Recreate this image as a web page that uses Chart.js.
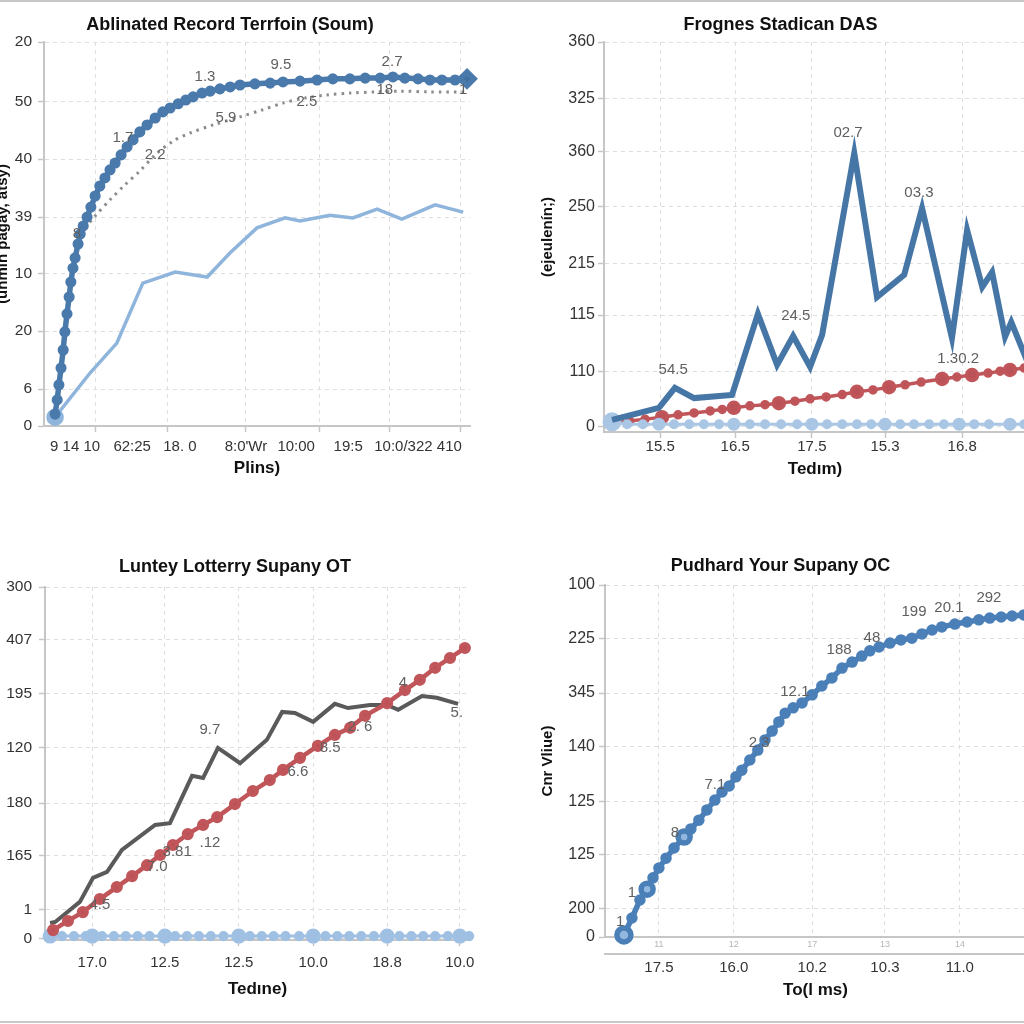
<!DOCTYPE html>
<html>
<head>
<meta charset="utf-8">
<script src="https://cdn.jsdelivr.net/npm/chart.js@4.4.1/dist/chart.umd.min.js"></script>
<style>
  html, body { margin: 0; padding: 0; background: #fff; width: 1024px; height: 1024px; overflow: hidden; }
  canvas { position: absolute; }
  .rule { position: absolute; left: 0; width: 1024px; height: 2px; background: #c8c8c8; }
</style>
</head>
<body>
<div class="rule" style="top:0"></div>
<div class="rule" style="top:1021px"></div>
<canvas id="tl" width="522" height="512" style="left:-10px;top:0"></canvas>
<canvas id="tr" width="550" height="512" style="left:535px;top:0"></canvas>
<canvas id="bl" width="496" height="512" style="left:0;top:512px"></canvas>
<canvas id="br" width="564" height="512" style="left:535px;top:512px"></canvas>
<script>
// ---------- data (axis units 0..100) ----------

// top left
const tlYTicks  = [0, 9.6, 24.7, 39.6, 54.4, 69.5, 84.4, 100];
const tlYLabels = ['0', '6', '20', '10', '39', '40', '50', '20'];
const tlXGrid   = [12.2, 28.9, 47.4, 64.6, 81.2, 97.7];
const tlXTicks  = [7.3, 20.7, 31.9, 47.4, 59.2, 71.4, 87.8];
const tlXLabels = ['9 14 10', '62:25', '18. 0', "8:0'Wr", '10:00', '19:5', '10:0/322 410'];
const tlBlueX = [2.6,3.1,3.5,4.0,4.5,4.9,5.4,5.9,6.3,6.8,7.3,8.0,8.5,9.2,10.1,11.0,12.0,13.1,14.3,15.5,16.7,18.1,19.5,20.9,22.5,24.2,26.1,27.9,29.6,31.5,33.3,35.0,37.1,39.0,41.3,43.7,46.0,49.5,53.1,56.1,60.1,64.1,67.8,71.8,75.4,78.9,81.9,84.7,87.8,90.6,93.4,96.5,99.3];
const tlBlueY = [3.1,6.8,10.7,15.1,19.8,24.5,29.2,33.6,37.5,41.1,43.8,47.4,50.0,52.1,54.4,57.0,59.9,62.5,64.6,66.7,68.5,70.6,72.7,74.5,76.6,78.4,80.2,81.8,82.8,83.9,84.9,85.7,86.7,87.2,87.8,88.3,88.8,89.1,89.3,89.6,89.8,90.1,90.4,90.4,90.6,90.6,90.9,90.6,90.4,90.1,90.1,90.1,90.4];
const tlGreyX = [8.5,12.0,15.5,19.0,22.5,26.1,30.3,34.3,39.7,46.0,51.2,56.1,61.3,66.4,71.8,78.2,83.6,90.6,99.3];
const tlGreyY = [50.0,54.7,58.9,62.8,66.4,70.6,74.2,76.3,78.4,80.5,82.3,84.1,85.4,86.2,86.7,87.0,87.2,87.0,87.0];
const tlPaleX = [2.6,10.8,17.1,23.2,30.8,38.3,43.7,50.0,56.6,60.1,67.1,72.5,78.2,84.0,91.8,98.4];
const tlPaleY = [2.3,13.8,21.6,37.2,40.1,38.8,45.1,51.6,54.2,53.4,54.9,54.2,56.5,53.9,57.6,55.7];
const tlTagText = ['8', '1.7', '1.3', '9.5', '2.7', '2.2', '5.9', '2.5', '18', '1'];
const tlTagX    = [7.7, 18.5, 37.8, 55.6, 81.7, 26.1, 42.7, 61.7, 80.0, 98.4];
const tlTagY    = [50.0, 75.0, 90.9, 94.0, 94.8, 70.6, 80.2, 84.4, 87.5, 87.5];

// top right
const trYTicks  = [1.3, 15.4, 30.0, 43.3, 57.9, 71.8, 85.6, 100];
const trYLabels = ['0', '110', '115', '215', '250', '360', '325', '360'];
const trXGrid   = [12.6, 29.4, 46.6, 63.0, 80.3];
const trXLabels = ['15.5', '16.5', '17.5', '15.3', '16.8'];
const trDarkX = [1.8,12.3,15.9,20.2,28.7,34.5,38.8,42.4,46.2,48.9,56.1,61.2,67.3,71.3,78.0,81.4,84.8,87.0,89.9,91.3,95.5];
const trDarkY = [3.1,6.2,11.3,8.7,9.5,30.3,17.2,24.6,16.7,24.9,71.5,34.6,40.3,57.4,24.1,51.8,37.2,41.0,24.4,28.2,16.4];
const trRedX = [2.5,5.8,9.2,13.0,16.6,20.2,23.8,26.5,29.1,32.7,36.1,39.2,42.8,46.2,49.8,53.4,56.7,60.3,63.9,67.5,71.1,75.8,79.1,82.5,86.1,88.8,91.0,94.2];
const trRedY = [2.3,2.8,3.3,3.8,4.4,4.9,5.4,5.8,6.2,6.7,7.0,7.4,7.9,8.5,9.0,9.6,10.3,10.8,11.5,12.1,12.8,13.6,14.1,14.6,15.1,15.6,15.9,16.4];
const trPaleX = [1.8,5.2,8.7,12.3,15.7,19.1,22.4,25.8,29.1,32.7,36.1,39.7,43.3,46.6,50.0,53.4,56.7,59.9,63.0,66.4,69.5,72.9,76.2,79.6,83.0,86.3,91.0,94.2];
const trPaleY = [2.6,2.0,2.0,2.0,2.0,2.0,2.0,2.0,2.0,2.0,2.0,2.0,2.0,2.0,2.0,2.0,2.0,2.0,2.0,2.0,2.0,2.0,2.0,2.0,2.0,2.0,2.0,2.0];
const trTagText = ['54.5', '24.5', '02.7', '03.3', '1.30.2'];
const trTagX    = [15.5, 43.0, 54.7, 70.6, 79.4];
const trTagY    = [15.9, 29.7, 76.7, 61.3, 18.7];

// bottom left
const blYTicks  = [0.3, 8.5, 23.8, 38.8, 54.4, 69.7, 85.0, 100];
const blYLabels = ['0', '1', '165', '180', '120', '195', '407', '300'];
const blXGrid   = [11.1, 28.2, 45.6, 63.1, 80.5, 97.6];
const blXLabels = ['17.0', '12.5', '12.5', '10.0', '18.8', '10.0'];
const blGreyX = [1.2,2.4,8.2,11.3,14.6,18.1,25.9,29.4,34.6,37.2,40.7,45.9,52.2,55.8,58.8,63.1,68.2,71.3,76.5,80.5,83.1,88.7,92.2,97.2];
const blGreyY = [4.8,5.1,10.8,17.6,19.3,25.5,32.6,33.1,46.5,45.9,54.4,50.1,56.7,64.6,64.3,61.8,66.9,65.7,66.6,66.6,65.2,69.1,68.6,66.9];
const blRedX = [1.9,5.4,8.9,12.9,16.9,20.5,24.0,27.1,30.1,33.6,37.2,40.5,44.7,48.9,52.9,56.0,60.0,64.2,68.2,71.8,75.3,80.5,84.7,88.2,91.8,95.3,98.8];
const blRedY = [2.8,5.4,7.9,11.6,15.0,18.1,21.2,24.1,26.9,30.0,32.6,34.8,38.5,42.2,45.3,48.2,51.6,55.0,58.1,60.1,63.5,67.1,70.8,73.7,77.1,79.9,82.7];
const blPaleX = [1.2,4.0,6.8,9.6,11.1,13.4,16.2,19.0,21.8,24.6,28.2,30.6,33.4,36.2,39.0,42.0,45.6,48.2,51.0,53.8,56.6,59.8,63.1,66.0,68.8,71.6,74.4,77.4,80.5,83.4,86.2,89.0,91.8,94.8,97.6,99.8];
const blPaleY = [1.1,1.1,1.1,1.1,1.1,1.1,1.1,1.1,1.1,1.1,1.1,1.1,1.1,1.1,1.1,1.1,1.1,1.1,1.1,1.1,1.1,1.1,1.1,1.1,1.1,1.1,1.1,1.1,1.1,1.1,1.1,1.1,1.1,1.1,1.1,1.1];
const blTagText = ['9.7', '5.', '4', '2. 6', '8.5', '6.6', '.12', '3.81', '7.0', '4.5'];
const blTagX    = [38.8, 96.9, 84.2, 74.1, 67.1, 59.5, 38.8, 31.1, 26.4, 12.9];
const blTagY    = [59.5, 64.3, 72.8, 60.3, 54.4, 47.6, 27.5, 24.9, 20.7, 9.9];

// bottom right
const brYTicks  = [0, 8.2, 23.3, 38.4, 54.0, 69.3, 84.7, 100];
const brYLabels = ['0', '200', '125', '125', '140', '345', '225', '100'];
const brXGrid   = [12.8, 30.6, 49.2, 66.5, 84.3];
const brXInner  = ['11', '12', '17', '13', '14'];
const brXLabels = ['17.5', '16.0', '10.2', '10.3', '11.0'];
const brX = [4.5,6.4,8.3,10.0,11.4,12.8,14.5,16.4,18.8,20.4,22.3,24.2,26.1,27.8,29.5,31.1,32.5,34.4,36.3,38.0,39.7,41.3,42.8,44.7,46.8,49.2,51.5,53.9,56.3,58.7,61.0,62.9,65.1,67.7,70.3,72.9,75.3,77.7,80.0,83.1,86.0,88.8,91.4,94.1,96.7,99.5];
const brY = [0.6,5.4,10.5,13.6,16.8,19.6,22.4,25.3,28.4,30.7,33.2,36.1,38.9,41.2,42.9,45.5,47.4,50.3,53.1,56.0,58.5,61.1,63.6,65.1,66.5,68.8,71.3,73.6,76.4,78.1,79.8,81.3,82.4,83.5,84.4,84.9,86.1,87.2,88.1,88.9,89.5,90.1,90.6,90.9,91.2,91.5];
const brTagText = ['1', '1', '8', '7.1', '2.3', '12.1', '188', '48', '199', '20.1', '292'];
const brTagX    = [3.6, 6.4, 16.6, 26.1, 36.6, 45.1, 55.6, 63.4, 73.4, 81.7, 91.2];
const brTagY    = [4.3, 12.5, 29.5, 43.2, 55.1, 69.6, 81.5, 84.9, 92.3, 93.5, 96.3];

// ---------- styling ----------
const GRID = '#dedede';
const AXIS = '#c6c6c6';
const TEXT = '#333';
Chart.defaults.font.family = '"Liberation Sans", Arial, sans-serif';

const xy = (xs, ys) => xs.map((x, i) => ({ x: x, y: ys[i] }));
const tags = (t, xs, ys) => t.map((text, i) => ({ text: text, x: xs[i], y: ys[i] }));
const fixTicks = values => s => { s.ticks = values.map(v => ({ value: v })); };
// bigger markers at a few indices
const sizeAt = (big, bigR, r) => ctx => big.includes(ctx.dataIndex) ? bigR : r;

// small grey numbers sitting next to the lines
const pointTags = {
  id: 'pointTags',
  afterDatasetsDraw(chart, args, opts) {
    const { ctx, scales } = chart;
    ctx.save();
    ctx.font = '15px "Liberation Sans", Arial, sans-serif';
    ctx.fillStyle = '#606060';
    ctx.textAlign = 'center';
    ctx.textBaseline = 'middle';
    (opts.items || []).forEach(t => {
      ctx.fillText(t.text, scales.x.getPixelForValue(t.x), scales.y.getPixelForValue(t.y));
    });
    ctx.restore();
  }
};

function buildPanel(id, p) {
  const scales = {
    x: {
      type: 'linear', position: 'bottom', weight: 0, min: 0, max: p.xMax,
      afterBuildTicks: fixTicks(p.xGrid),
      afterFit: s => { s.height = p.innerHeight; },
      grid: { color: GRID, drawTicks: !p.innerLabels, tickLength: 6, tickColor: AXIS, tickWidth: 1.5 },
      border: { color: AXIS, width: 2, dash: [4, 4] },
      ticks: p.innerLabels
        ? { callback: (v, i) => p.innerLabels[i], color: '#b5b5b5', font: { size: 9 }, padding: 2.6, maxRotation: 0, minRotation: 0, autoSkip: false }
        : { display: false }
    },
    xl: {
      type: 'linear', position: 'bottom', weight: 1, min: 0, max: p.xMax,
      afterBuildTicks: fixTicks(p.xTicks),
      afterFit: s => { s.height = p.labelHeight; },
      grid: { display: false, drawTicks: false },
      border: { display: !!p.outerBorder, color: AXIS, width: 2 },
      ticks: { callback: (v, i) => p.xLabels[i], color: TEXT, font: { size: 15 }, padding: p.labelPad, maxRotation: 0, minRotation: 0, autoSkip: false },
      title: { display: true, text: p.xTitle, color: '#111', font: { size: 17, weight: 'bold' }, padding: { top: 0, bottom: 4 } }
    },
    y: {
      type: 'linear', position: 'left', min: 0, max: 100,
      afterBuildTicks: fixTicks(p.yTicks),
      afterFit: s => { s.width = p.yWidth; },
      grid: { color: GRID, tickLength: 6, tickColor: AXIS, tickWidth: 1.5 },
      border: { color: AXIS, width: 2, dash: [4, 4] },
      ticks: { callback: (v, i) => p.yLabels[i], color: TEXT, font: { size: p.ySize }, padding: p.yPad, autoSkip: false },
      title: { display: !!p.yTitle, text: p.yTitle || '', color: '#111', font: { size: 15, weight: 'bold' } }
    }
  };
  return new Chart(document.getElementById(id), {
    type: 'line',
    data: { datasets: p.datasets },
    plugins: [pointTags],
    options: {
      responsive: false,
      animation: false,
      devicePixelRatio: 1,
      layout: { padding: p.padding },
      scales: scales,
      elements: { line: { tension: 0 }, point: { borderWidth: 0 } },
      plugins: {
        legend: { display: false },
        tooltip: { enabled: false },
        title: {
          display: true, text: p.title, color: '#111',
          font: { size: 18, weight: 'bold' },
          padding: p.titlePad
        },
        pointTags: { items: p.tags }
      }
    }
  });
}

// ---------- panels ----------
buildPanel('tl', {
  title: 'Ablinated Record Terrfoin (Soum)', xTitle: 'Plins)', yTitle: '(unmin pagay, atsy)',
  xMax: 100, xGrid: tlXGrid, xTicks: tlXTicks, xLabels: tlXLabels,
  yTicks: tlYTicks, yLabels: tlYLabels, ySize: 15.5,
  padding: { left: 0, right: 42, top: 0, bottom: 29.8 }, titlePad: { top: 14.2, bottom: 6.2 },
  yWidth: 54, yPad: 6, innerHeight: 0, labelHeight: 56.2, labelPad: 12,
  tags: tags(tlTagText, tlTagX, tlTagY),
  datasets: [
    { data: xy(tlBlueX, tlBlueY), borderColor: '#4a79ab', borderWidth: 5.5, backgroundColor: '#41709f',
      pointRadius: ctx => ctx.dataIndex === tlBlueX.length - 1 ? 7 : 2.8,
      pointStyle: ctx => ctx.dataIndex === tlBlueX.length - 1 ? 'rectRot' : 'circle', clip: 10 },
    { data: xy(tlPaleX, tlPaleY), borderColor: '#8fb5dc', borderWidth: 3.5, backgroundColor: '#8fb5dc',
      pointRadius: sizeAt([0], 7, 0), clip: 10 },
    { data: xy(tlGreyX, tlGreyY), borderColor: '#8c8c8c', borderWidth: 3, borderDash: [2.5, 5], backgroundColor: '#8c8c8c',
      pointRadius: sizeAt([0], 3, 0), tension: 0.3, clip: 10 }
  ]
});

buildPanel('tr', {
  title: 'Frognes Stadican DAS', xTitle: 'Tedım)', yTitle: '(ejeulenín;)',
  xMax: 94.6, xGrid: trXGrid, xTicks: trXGrid, xLabels: trXLabels,
  yTicks: trYTicks, yLabels: trYLabels, ySize: 16,
  padding: { left: 0, right: 59, top: 0, bottom: 28.8 }, titlePad: { top: 14.2, bottom: 6.2 },
  yWidth: 69, yPad: 3, innerHeight: 0, labelHeight: 51.2, labelPad: 6,
  tags: tags(trTagText, trTagX, trTagY),
  datasets: [
    { data: xy(trDarkX, trDarkY), borderColor: '#4676a6', borderWidth: 6, pointRadius: 0, borderJoinStyle: 'miter', clip: 10 },
    { data: xy(trPaleX, trPaleY), borderColor: '#a9c6e4', borderWidth: 3, backgroundColor: '#a9c6e4',
      pointRadius: ctx => ctx.dataIndex === 0 ? 8 : ([3, 8, 13, 18, 23, 26].includes(ctx.dataIndex) ? 5 : 3.5), clip: 10 },
    { data: xy(trRedX, trRedY), borderColor: '#c0555a', borderWidth: 3.5, backgroundColor: '#bb5258',
      pointRadius: sizeAt([3, 8, 11, 16, 18, 21, 23, 26], 5.5, 3), clip: 10 }
  ]
});

buildPanel('bl', {
  title: 'Luntey Lotterry Supany OT', xTitle: 'Tedıne)',
  xMax: 100, xGrid: blXGrid, xTicks: blXGrid, xLabels: blXLabels,
  yTicks: blYTicks, yLabels: blYLabels, ySize: 15.5,
  padding: { left: 0, right: 26, top: 0, bottom: 20.8 }, titlePad: { top: 44.2, bottom: 9.2 },
  yWidth: 45, yPad: 7, innerHeight: 0, labelHeight: 63.2, labelPad: 14,
  tags: tags(blTagText, blTagX, blTagY),
  datasets: [
    { data: xy(blRedX, blRedY), borderColor: '#c0555a', borderWidth: 4.5, backgroundColor: '#bd5057',
      pointRadius: 3.8, clip: 10 },
    { data: xy(blGreyX, blGreyY), borderColor: '#5a5a5a', borderWidth: 4, pointRadius: 0, clip: 10 },
    { data: xy(blPaleX, blPaleY), borderColor: '#9fc0e2', borderWidth: 3, backgroundColor: '#9fc0e2',
      pointRadius: sizeAt([0, 4, 10, 16, 22, 28, 34], 6, 3.6), clip: 10 }
  ]
});

buildPanel('br', {
  title: 'Pudhard Your Supany OC', xTitle: 'To(l ms)', yTitle: 'Cnr Vliue)',
  xMax: 100, xGrid: brXGrid, xTicks: brXGrid, xLabels: brXLabels, innerLabels: brXInner, outerBorder: true,
  yTicks: brYTicks, yLabels: brYLabels, ySize: 16,
  padding: { left: 0, right: 73, top: 0, bottom: 19.8 }, titlePad: { top: 43.2, bottom: 8.2 },
  yWidth: 70, yPad: 4, innerHeight: 17, labelHeight: 50.2, labelPad: 5,
  tags: tags(brTagText, brTagX, brTagY),
  datasets: [
    { data: xy(brX, brY), borderColor: '#4b7fb8', borderWidth: 5.5,
      backgroundColor: ctx => [0, 3, 8].includes(ctx.dataIndex) ? '#93b8df' : '#4679b3',
      pointRadius: ctx => ctx.dataIndex === 0 ? 7 : ([3, 8].includes(ctx.dataIndex) ? 6 : 3), clip: 10 }
  ]
});
</script>
</body>
</html>
